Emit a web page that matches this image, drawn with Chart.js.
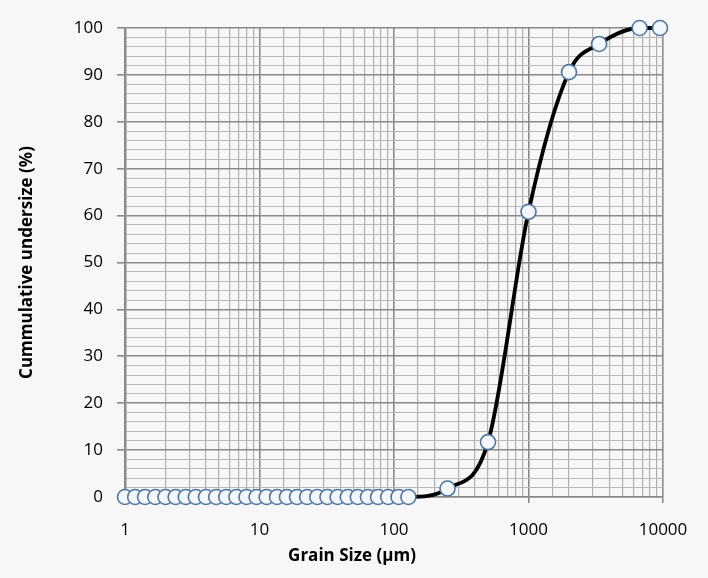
<!DOCTYPE html>
<html>
<head>
<meta charset="utf-8">
<script src="https://cdn.jsdelivr.net/npm/chart.js@4"></script>
<style>
  html, body { margin: 0; padding: 0; background: #f7f7f7; }
  #wrap { width: 708px; height: 578px; }
</style>
</head>
<body>
<div id="wrap"><canvas id="c" width="708" height="578"></canvas></div>
<script>
// Grain size (µm)
const grainSize = [1, 1.19, 1.41, 1.68, 2, 2.38, 2.83, 3.36, 4, 4.76, 5.66, 6.73, 8, 9.51,
  11.3, 13.5, 16, 19, 22.6, 26.9, 32, 38.1, 45.3, 53.8, 64, 76.1, 90.5, 108, 128,
  250, 500, 1000, 2000, 3350, 6700, 9500];
// Cumulative undersize (%)
const undersize = [0, 0, 0, 0, 0, 0, 0, 0, 0, 0, 0, 0, 0, 0,
  0, 0, 0, 0, 0, 0, 0, 0, 0, 0, 0, 0, 0, 0, 0,
  1.8, 11.7, 60.8, 90.6, 96.6, 100, 100];
const xTickLabels = [1, 10, 100, 1000, 10000];
const yTickLabels = [0, 10, 20, 30, 40, 50, 60, 70, 80, 90, 100];
const xTitle = 'Grain Size (µm)';
const yTitle = 'Cummulative undersize (%)';

const points = grainSize.map((g, i) => ({ x: g, y: undersize[i] }));
const isMajorX = v => xTickLabels.some(t => Math.abs(t - v) < 1e-6 * t);
const isMajorY = v => yTickLabels.includes(v);

// Draws the x-axis title centred on the canvas (as in the reference)
const xTitlePlugin = {
  id: 'xTitle',
  afterDraw(chart) {
    const ctx = chart.ctx;
    ctx.save();
    ctx.font = 'bold 17px "Open Sans"';
    ctx.fillStyle = '#000000';
    ctx.textAlign = 'center';
    ctx.textBaseline = 'middle';
    ctx.fillText(xTitle, 352, 556);
    ctx.restore();
  }
};

new Chart(document.getElementById('c'), {
  type: 'line',
  data: {
    datasets: [{
      data: points,
      borderColor: '#000000',
      borderWidth: 3.8,
      cubicInterpolationMode: 'monotone',
      pointRadius: 7.5,
      pointHoverRadius: 7.5,
      pointBackgroundColor: '#f3f7fc',
      pointBorderColor: '#4f76a0',
      pointBorderWidth: 1.6,
      clip: false,
      fill: false
    }]
  },
  plugins: [xTitlePlugin],
  options: {
    responsive: false,
    animation: false,
    events: [],
    layout: { padding: { left: 0, right: 45, top: 28, bottom: 0 } },
    plugins: {
      legend: { display: false },
      tooltip: { enabled: false }
    },
    scales: {
      x: {
        type: 'logarithmic',
        min: 1,
        max: 10000,
        afterFit: s => { s.height = 81; },
        border: { display: true, color: '#8a8a8a', width: 1.5 },
        grid: {
          color: ctx => isMajorX(ctx.tick.value) ? '#8a8a8a' : '#b0b0b0',
          lineWidth: ctx => isMajorX(ctx.tick.value) ? 1.6 : 1.2,
          tickColor: ctx => isMajorX(ctx.tick.value) ? '#8a8a8a' : 'rgba(0,0,0,0)',
          tickLength: 6
        },
        ticks: {
          autoSkip: false,
          maxRotation: 0,
          color: '#000000',
          padding: 17,
          font: { family: 'Open Sans', size: 17 },
          callback: v => isMajorX(v) ? String(v) : ''
        }
      },
      y: {
        type: 'linear',
        min: 0,
        max: 100,
        afterFit: s => { s.width = 125; },
        border: { display: true, color: '#8a8a8a', width: 2.5 },
        grid: {
          color: ctx => isMajorY(ctx.tick.value) ? '#8a8a8a' : '#b8b8b8',
          lineWidth: ctx => isMajorY(ctx.tick.value) ? 1.6 : 1,
          tickColor: ctx => isMajorY(ctx.tick.value) ? '#8a8a8a' : 'rgba(0,0,0,0)',
          tickLength: 8
        },
        ticks: {
          stepSize: 2,
          autoSkip: false,
          color: '#000000',
          padding: 14,
          font: { family: 'Open Sans', size: 17 },
          callback: v => isMajorY(v) ? String(v) : ''
        },
        title: {
          display: true,
          text: yTitle,
          color: '#000000',
          font: { family: 'Open Sans', size: 17, weight: 'bold', lineHeight: 1.2 },
          padding: { top: 17, bottom: 0 }
        }
      }
    }
  }
});
</script>
</body>
</html>
